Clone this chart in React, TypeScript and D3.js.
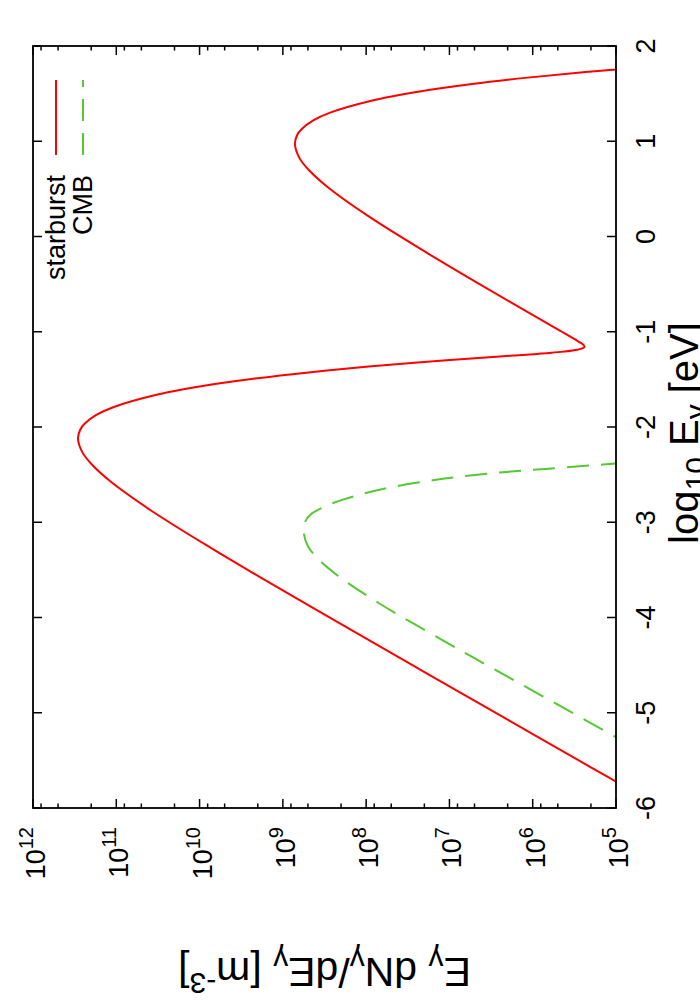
import React from 'react';
import * as d3 from 'd3';

// log10 E_gamma [eV] and log10 E dN/dE [m^-3]
const starburstE = [-5.85, -5.57, -5.07, -4.57, -4.07, -3.57, -3.269, -2.871, -2.57, -2.394, -2.269, -2.12, -2.026, -1.968, -1.871, -1.792, -1.667, -1.57, -1.491, -1.424, -1.366, -1.3, -1.25, -1.22, -1.19, -1.16, -1.13, -1.1, -1.0, -0.978, -0.478, -0.177, 0.221, 0.522, 0.698, 0.823, 0.972, 1.066, 1.124, 1.221, 1.3, 1.425, 1.522, 1.601, 1.668, 1.726, 1.777];
const starburstN = [4.747, 5.307, 6.306, 7.305, 8.3, 9.285, 9.865, 10.592, 11.072, 11.293, 11.405, 11.46, 11.432, 11.384, 11.235, 11.037, 10.542, 9.964, 9.333, 8.665, 7.971, 7.036, 6.233, 5.774, 5.47, 5.378, 5.401, 5.455, 5.651, 5.695, 6.68, 7.26, 7.987, 8.467, 8.688, 8.8, 8.855, 8.828, 8.779, 8.63, 8.432, 7.937, 7.359, 6.728, 6.06, 5.366, 4.652];

const cmbE = [-5.35, -5.256, -4.822, -4.53, -4.239, -3.853, -3.561, -3.391, -3.25, -3.1, -2.99, -2.92, -2.84, -2.76, -2.65, -2.56, -2.49, -2.44, -2.394, -2.369];
const cmbN = [4.8, 5.0, 5.89, 6.49, 7.08, 7.84, 8.34, 8.57, 8.70, 8.75, 8.73, 8.67, 8.51, 8.27, 7.8, 7.2, 6.55, 5.85, 5.16, 4.8];

const eTicks = [-6, -5, -4, -3, -2, -1, 0, 1, 2];
const nDecades = [12, 11, 10, 9, 8, 7, 6, 5];
const minorMult = [2, 5, 8];

const FONT = '"Liberation Sans", Arial, Helvetica, sans-serif';

const App = () => {
  // plot is drawn in its landscape frame, then turned a quarter to the left
  const W = 762;
  const H = 583;
  const x = d3.scaleLinear().domain([-6, 2]).range([0, W]);
  const y = d3.scaleLinear().domain([5, 12]).range([H, 0]);

  const line = d3.line<[number, number]>()
    .x(d => x(d[0]))
    .y(d => y(d[1]))
    .curve(d3.curveCatmullRom);

  const starburst = line(starburstE.map((e, i) => [e, starburstN[i]]));
  const cmb = line(cmbE.map((e, i) => [e, cmbN[i]]));

  const minors: number[] = [];
  for (let p = 5; p < 12; p++) minorMult.forEach(m => minors.push(p + Math.log10(m)));

  return (
    <svg width={700} height={1000} style={{ position: 'absolute', left: 0, top: 0, background: '#fff' }}
      fontFamily={FONT}>
      <defs>
        <clipPath id="plotclip">
          <rect x={0} y={0} width={W} height={H} />
        </clipPath>
      </defs>
      <g transform="translate(33,808) rotate(-90)">
        {/* curves */}
        <g clipPath="url(#plotclip)">
          <path d={starburst || ''} fill="none" stroke="#ff0000" strokeWidth={2} />
          <path d={cmb || ''} fill="none" stroke="#55c832" strokeWidth={2} strokeDasharray="22 12" />
        </g>

        {/* log E ticks, bottom and top */}
        {eTicks.map(t => (
          <g key={'e' + t}>
            <line x1={x(t)} x2={x(t)} y1={H} y2={H - 9} stroke="#000" strokeWidth={1.5} />
            <line x1={x(t)} x2={x(t)} y1={0} y2={9} stroke="#000" strokeWidth={1.5} />
            <text x={x(t)} y={H + 39} textAnchor="middle" fontSize={27}>{t}</text>
          </g>
        ))}

        {/* log N ticks, left and right */}
        {nDecades.map(p => (
          <g key={'n' + p}>
            <line x1={0} x2={9} y1={y(p)} y2={y(p)} stroke="#000" strokeWidth={1.5} />
            <line x1={W} x2={W - 9} y1={y(p)} y2={y(p)} stroke="#000" strokeWidth={1.5} />
            <text x={-19} y={y(p) + 12} textAnchor="end" fontSize={27}>
              10<tspan dy={-12} fontSize={20}>{p}</tspan>
            </text>
          </g>
        ))}
        {minors.map((v, i) => (
          <g key={'m' + i}>
            <line x1={0} x2={4.5} y1={y(v)} y2={y(v)} stroke="#000" strokeWidth={1.5} />
            <line x1={W} x2={W - 4.5} y1={y(v)} y2={y(v)} stroke="#000" strokeWidth={1.5} />
          </g>
        ))}

        <rect x={0} y={0} width={W} height={H} fill="none" stroke="#000" strokeWidth={1.8} />

        {/* axis labels */}
        <text x={375} y={H + 82} textAnchor="middle" fontSize={40}>
          log<tspan dy={8} fontSize={30}>10</tspan><tspan dy={-8}> E</tspan><tspan dy={8} fontSize={30}>γ</tspan><tspan dy={-8}> [eV]</tspan>
        </text>
        <text transform={`translate(-150,${H / 2}) rotate(-90)`} textAnchor="middle" fontSize={41}>
          E<tspan dy={8} fontSize={30}>γ</tspan><tspan dy={-8}> dN</tspan><tspan dy={8} fontSize={30}>γ</tspan><tspan dy={-8}>/dE</tspan><tspan dy={8} fontSize={30}>γ</tspan><tspan dy={-8}> [m</tspan><tspan dy={-15} fontSize={30}>-3</tspan><tspan dy={15}>]</tspan>
        </text>

        {/* key */}
        <text x={633} y={32} textAnchor="end" fontSize={27}>starburst</text>
        <line x1={653} x2={728} y1={23} y2={23} stroke="#ff0000" strokeWidth={2} />
        <text x={633} y={59} textAnchor="end" fontSize={27}>CMB</text>
        <line x1={653} x2={728} y1={50} y2={50} stroke="#55c832" strokeWidth={2} strokeDasharray="22 12" />
      </g>
    </svg>
  );
};

export default App;
